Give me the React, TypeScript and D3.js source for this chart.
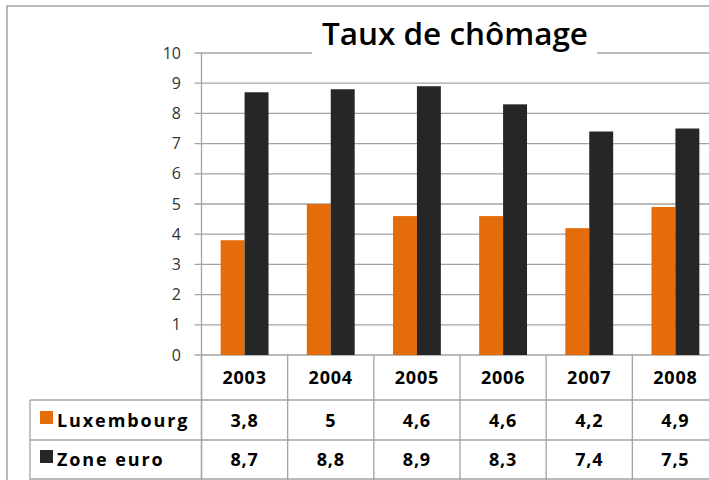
import React from "react";
import * as d3 from "d3";

// Taux de chômage, Luxembourg vs zone euro
const years = ["2003", "2004", "2005", "2006", "2007", "2008"];
const luxembourg = [3.8, 5, 4.6, 4.6, 4.2, 4.9];
const zoneEuro = [8.7, 8.8, 8.9, 8.3, 7.4, 7.5];
const seriesNames = ["Luxembourg", "Zone euro"];
const seriesColors = ["#E46C0A", "#262626"];

const W = 709;
const H = 480;
const plot = { left: 201.5, right: 718.5, top: 53, bottom: 355 };
const rows = { year: 400, lux: 440, zone: 479 };
const grid = "#a3a3a3";
const font = "'Open Sans', sans-serif";

const fmt = (v: number) => String(v).replace(".", ",");

export default function App() {
  const x = d3.scaleBand<string>().domain(years).range([plot.left, plot.right]).padding(0);
  const xs = d3
    .scaleBand<string>()
    .domain(seriesNames)
    .range([0, x.bandwidth()])
    .paddingInner(0)
    .paddingOuter(0.8);
  const y = d3.scaleLinear().domain([0, 10]).range([plot.bottom, plot.top]);

  const data = [luxembourg, zoneEuro];
  const boundaries = years.map((yr) => x(yr)!).concat([plot.right]);

  return (
    <svg
      width={W}
      height={H}
      style={{ position: "absolute", left: 0, top: 0, background: "#fff" }}
    >
      {/* outer chart border */}
      <rect x={7} y={6} width={760} height={520} fill="#fff" stroke="#8c8c8c" strokeWidth={1.2} />

      {/* gridlines + y labels */}
      {y.ticks(10).map((t) => (
        <g key={t}>
          <line x1={plot.left - 7} x2={W} y1={y(t)} y2={y(t)} stroke={grid} strokeWidth={1.3} />
          <text
            x={181}
            y={y(t)}
            dy="0.35em"
            textAnchor="end"
            fontFamily={font}
            fontSize={16}
            fill="#333"
          >
            {t}
          </text>
        </g>
      ))}

      {/* title with white box over top gridline */}
      <rect x={312} y={14} width={285} height={44} fill="#fff" />
      <text
        x={455}
        y={45}
        textAnchor="middle"
        fontFamily={font}
        fontSize={31}
        fontWeight={600}
        fill="#000"
        textLength={266}
        lengthAdjust="spacingAndGlyphs"
      >
        Taux de chômage
      </text>

      {/* bars */}
      {data.map((vals, si) =>
        vals.map((v, i) => (
          <rect
            key={`${si}-${i}`}
            x={x(years[i])! + xs(seriesNames[si])!}
            y={y(v)}
            width={xs.bandwidth()}
            height={y(0) - y(v)}
            fill={seriesColors[si]}
          />
        ))
      )}

      {/* y axis line, through the data table */}
      <line x1={plot.left} x2={plot.left} y1={plot.top} y2={H} stroke={grid} strokeWidth={1.3} />

      {/* data table */}
      {boundaries.map((bx, i) => (
        <line key={i} x1={bx} x2={bx} y1={plot.bottom} y2={H} stroke={grid} strokeWidth={1.3} />
      ))}
      <line x1={30} x2={30} y1={rows.year} y2={H} stroke={grid} strokeWidth={1.3} />
      {[rows.year, rows.lux, rows.zone].map((ry) => (
        <line key={ry} x1={30} x2={W} y1={ry} y2={ry} stroke={grid} strokeWidth={1.3} />
      ))}

      {years.map((yr) => (
        <text
          key={yr}
          x={x(yr)! + x.bandwidth() / 2}
          y={384}
          textAnchor="middle"
          fontFamily={font}
          fontSize={18}
          fontWeight={700}
          letterSpacing={0.8}
          fill="#000"
        >
          {yr}
        </text>
      ))}

      {data.map((vals, si) => {
        const base = si === 0 ? 427 : 466;
        return (
          <g key={si}>
            <rect x={40} y={base - 16} width={13} height={13} fill={seriesColors[si]} />
            <text
              x={57}
              y={base}
              fontFamily={font}
              fontSize={18}
              fontWeight={700}
              letterSpacing={1.9}
              fill="#000"
            >
              {seriesNames[si]}
            </text>
            {vals.map((v, i) => (
              <text
                key={i}
                x={x(years[i])! + x.bandwidth() / 2}
                y={base}
                textAnchor="middle"
                fontFamily={font}
                fontSize={18}
                fontWeight={700}
                letterSpacing={0.8}
                fill="#000"
              >
                {fmt(v)}
              </text>
            ))}
          </g>
        );
      })}
    </svg>
  );
}
